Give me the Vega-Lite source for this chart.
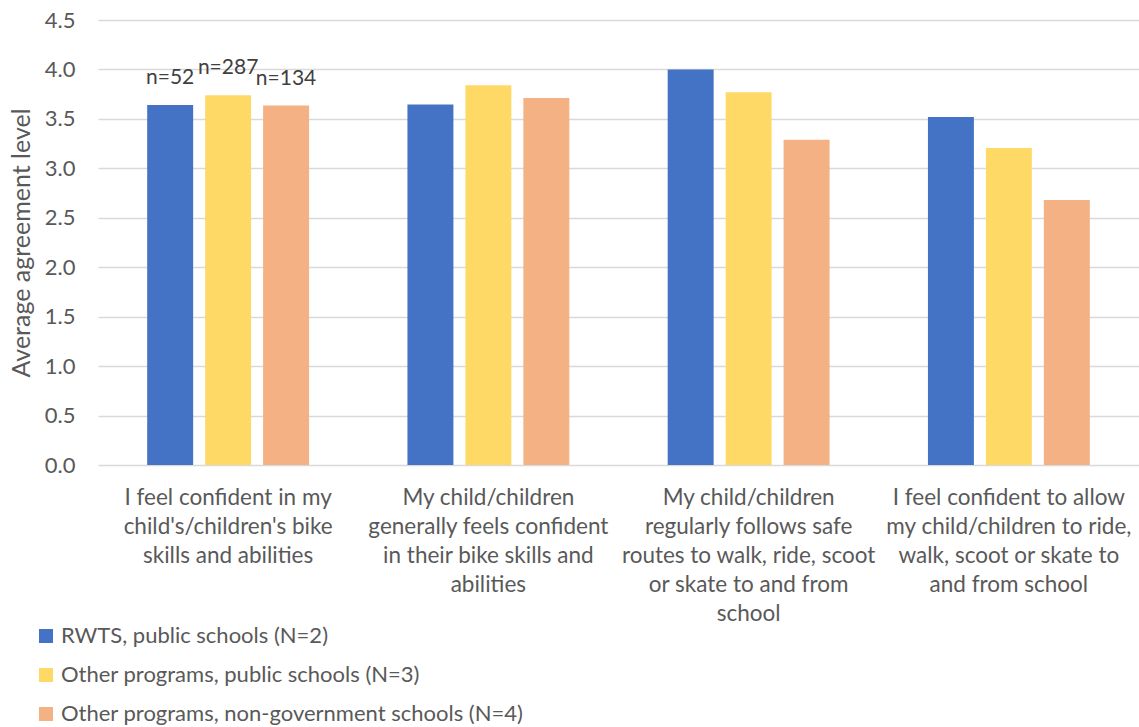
{
  "$schema": "https://vega.github.io/schema/vega-lite/v6.json",
  "autosize": {"type": "none"},
  "padding": {"left": 98, "top": 20, "right": 0, "bottom": 262},
  "width": 1041,
  "height": 445,
  "background": "white",
  "config": {
    "view": {"stroke": null},
    "font": "Lato",
    "axis": {"labelFont": "Lato", "titleFont": "Lato"},
    "legend": {"labelFont": "Lato"}
  },
  "data": {
    "values": [
      {"statement": "I feel confident in my|child's/children's bike|skills and abilities", "group": "RWTS, public schools (N=2)", "value": 3.64, "n": "n=52"},
      {"statement": "I feel confident in my|child's/children's bike|skills and abilities", "group": "Other programs, public schools (N=3)", "value": 3.74, "n": "n=287"},
      {"statement": "I feel confident in my|child's/children's bike|skills and abilities", "group": "Other programs, non-government schools (N=4)", "value": 3.635, "n": "n=134"},
      {"statement": "My child/children|generally feels confident|in their bike skills and|abilities", "group": "RWTS, public schools (N=2)", "value": 3.645},
      {"statement": "My child/children|generally feels confident|in their bike skills and|abilities", "group": "Other programs, public schools (N=3)", "value": 3.84},
      {"statement": "My child/children|generally feels confident|in their bike skills and|abilities", "group": "Other programs, non-government schools (N=4)", "value": 3.71},
      {"statement": "My child/children|regularly follows safe|routes to walk, ride, scoot|or skate to and from|school", "group": "RWTS, public schools (N=2)", "value": 4.0},
      {"statement": "My child/children|regularly follows safe|routes to walk, ride, scoot|or skate to and from|school", "group": "Other programs, public schools (N=3)", "value": 3.77},
      {"statement": "My child/children|regularly follows safe|routes to walk, ride, scoot|or skate to and from|school", "group": "Other programs, non-government schools (N=4)", "value": 3.29},
      {"statement": "I feel confident to allow|my child/children to ride,|walk, scoot or skate to|and from school", "group": "RWTS, public schools (N=2)", "value": 3.52},
      {"statement": "I feel confident to allow|my child/children to ride,|walk, scoot or skate to|and from school", "group": "Other programs, public schools (N=3)", "value": 3.205},
      {"statement": "I feel confident to allow|my child/children to ride,|walk, scoot or skate to|and from school", "group": "Other programs, non-government schools (N=4)", "value": 2.68}
    ]
  },
  "encoding": {
    "x": {
      "field": "statement",
      "type": "nominal",
      "sort": null,
      "scale": {"paddingInner": 0.378, "paddingOuter": 0.189},
      "axis": {
        "title": null,
        "labelAngle": 0,
        "labelExpr": "split(datum.label, '|')",
        "labelFontSize": 22.5,
        "labelColor": "#595959",
        "labelLineHeight": 29,
        "labelPadding": 21,
        "labelBaseline": "top",
        "labelLimit": 300,
        "ticks": false,
        "domain": false
      }
    },
    "xOffset": {
      "field": "group",
      "type": "nominal",
      "sort": null,
      "scale": {"paddingInner": 0.2069, "paddingOuter": 0}
    },
    "y": {
      "field": "value",
      "type": "quantitative",
      "scale": {"domain": [0, 4.5], "nice": false},
      "axis": {
        "title": "Average agreement level",
        "titleFontSize": 25,
        "titleFontWeight": "normal",
        "titleColor": "#595959",
        "titlePadding": 10,
        "values": [0, 0.5, 1, 1.5, 2, 2.5, 3, 3.5, 4, 4.5],
        "format": ".1f",
        "labelFontSize": 22,
        "labelColor": "#595959",
        "labelPadding": 23,
        "ticks": false,
        "domain": false,
        "gridColor": "#d9d9d9",
        "gridWidth": 1.5
      }
    }
  },
  "layer": [
    {
      "mark": {"type": "bar"},
      "encoding": {
        "color": {
          "field": "group",
          "type": "nominal",
          "sort": null,
          "scale": {
            "domain": ["RWTS, public schools (N=2)", "Other programs, public schools (N=3)", "Other programs, non-government schools (N=4)"],
            "range": ["#4472C4", "#FFD966", "#F4B183"]
          },
          "legend": {
            "title": null,
            "orient": "none",
            "legendX": -63,
            "legendY": 605,
            "direction": "vertical",
            "symbolType": "square",
            "symbolSize": 196,
            "symbolStrokeWidth": 0,
            "labelFontSize": 22,
            "labelColor": "#595959",
            "labelOffset": 4,
            "rowPadding": 17,
            "labelLimit": 600
          }
        }
      }
    },
    {
      "transform": [{"filter": "datum.n"}],
      "mark": {"type": "text", "fontSize": 21, "color": "#404040", "baseline": "alphabetic", "dy": -21},
      "encoding": {"text": {"field": "n"}}
    }
  ]
}
